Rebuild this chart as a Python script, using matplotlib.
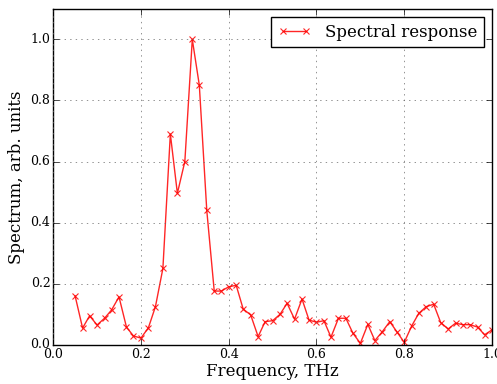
import matplotlib
matplotlib.use("Agg")
import matplotlib.pyplot as plt

freq = [0.050, 0.067, 0.083, 0.100, 0.117, 0.133, 0.150, 0.167, 0.183, 0.200,
        0.217, 0.233, 0.250, 0.267, 0.283, 0.300, 0.317, 0.333, 0.350, 0.367,
        0.383, 0.400, 0.417, 0.433, 0.450, 0.467, 0.483, 0.500, 0.517, 0.533,
        0.550, 0.567, 0.583, 0.600, 0.617, 0.633, 0.650, 0.667, 0.683, 0.700,
        0.717, 0.733, 0.750, 0.767, 0.783, 0.800, 0.817, 0.833, 0.850, 0.867,
        0.883, 0.900, 0.917, 0.933, 0.950, 0.967, 0.983, 1.000]
spectrum = [0.160, 0.055, 0.095, 0.065, 0.087, 0.114, 0.157, 0.058, 0.029, 0.022,
            0.056, 0.125, 0.250, 0.690, 0.496, 0.600, 1.000, 0.850, 0.440, 0.176,
            0.176, 0.190, 0.195, 0.117, 0.098, 0.027, 0.076, 0.079, 0.100, 0.136,
            0.084, 0.150, 0.081, 0.074, 0.079, 0.025, 0.087, 0.087, 0.038, 0.005,
            0.067, 0.014, 0.043, 0.076, 0.043, 0.008, 0.062, 0.103, 0.125, 0.133,
            0.073, 0.052, 0.071, 0.066, 0.066, 0.058, 0.033, 0.049]

plt.style.use("classic")
plt.rcParams["font.family"] = "DejaVu Serif"

fig = plt.figure(figsize=(4.97, 3.84), dpi=100, facecolor="white")
ax = fig.add_axes([0.107, 0.102, 0.883, 0.875])
ax.plot(freq, spectrum, "r-x", lw=1, ms=5, mew=0.8, alpha=0.85, label="Spectral response")
ax.set_xlim(0, 1.0)
ax.set_ylim(0, 1.1)
ax.set_xticks([0.0, 0.2, 0.4, 0.6, 0.8, 1.0])
ax.set_yticks([0.0, 0.2, 0.4, 0.6, 0.8, 1.0])
ax.tick_params(labelsize=9, pad=2)
ax.grid(True, color="0.4", linestyle=":")
ax.set_xlabel("Frequency, THz", fontsize=12, labelpad=2)
ax.set_ylabel("Spectrum, arb. units", fontsize=12, labelpad=4)
leg = ax.legend(loc="upper right", fontsize=12, numpoints=2)
leg.get_frame().set_linewidth(1)
fig.savefig("out.png", dpi=100, facecolor="white")
